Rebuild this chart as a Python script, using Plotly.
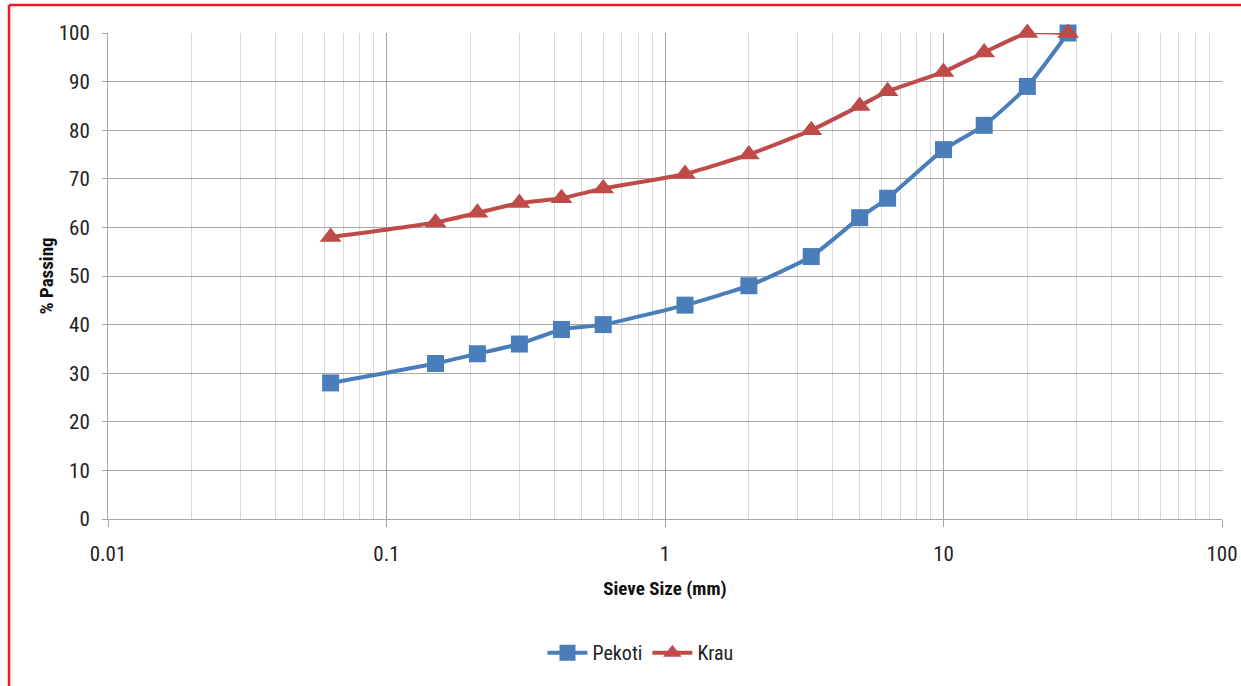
import plotly.graph_objects as go

sieve_mm = [0.063, 0.15, 0.212, 0.3, 0.425, 0.6, 1.18, 2, 3.35, 5, 6.3, 10, 14, 20, 28]
pekoti = [28, 32, 34, 36, 39, 40, 44, 48, 54, 62, 66, 76, 81, 89, 100]
krau = [58, 61, 63, 65, 66, 68, 71, 75, 80, 85, 88, 92, 96, 100, 100]

FONT = "Liberation Sans Narrow, Arial Narrow, Roboto Condensed, Open Sans, sans-serif"

fig = go.Figure()
fig.add_trace(go.Scatter(
    x=sieve_mm, y=pekoti, name="Pekoti", mode="lines+markers", cliponaxis=False,
    line=dict(color="#4a7ebb", width=4, shape="spline", smoothing=0.5),
    marker=dict(symbol="square", size=17, color="#4a7ebb"),
))
fig.add_trace(go.Scatter(
    x=sieve_mm, y=krau, name="Krau", mode="lines+markers", cliponaxis=False,
    line=dict(color="#be4b48", width=4, shape="spline", smoothing=0.5),
    marker=dict(symbol="triangle-up", size=19, color="#be4b48"),
))

W, H = 1241, 686
ml, mr, mt, mb = 108, 19, 33, 167
pw, ph = W - ml - mr, H - mt - mb

fig.update_layout(
    width=W, height=H,
    margin=dict(l=ml, r=mr, t=mt, b=mb, autoexpand=False),
    paper_bgcolor="white", plot_bgcolor="white",
    font=dict(family=FONT, size=21, color="#222"),
    showlegend=True,
    legend=dict(orientation="h", x=0.478, xanchor="center", y=-0.275, yanchor="middle",
                font=dict(size=20, family=FONT), itemwidth=40, tracegroupgap=0),
    xaxis=dict(
        type="log", range=[-2, 2], dtick=1,
        tickvals=[0.01, 0.1, 1, 10, 100], ticktext=["0.01", "0.1", "1", "10", "100"],
        showgrid=True, gridcolor="#a6a6a6", gridwidth=1,
        showline=True, linecolor="#a6a6a6", linewidth=1,
        ticks="outside", ticklen=7, tickcolor="#a6a6a6",
        ticklabelstandoff=9, automargin=False,
        minor=dict(dtick="D1", showgrid=True, gridcolor="#d9d9d9", gridwidth=1, ticks=""),
        zeroline=False, mirror=False,
        title=dict(text="<b>Sieve Size (mm)</b>", font=dict(size=19, family=FONT, color="#111"), standoff=16),
        tickfont=dict(size=21),
    ),
    yaxis=dict(
        range=[0, 100], dtick=10,
        showgrid=True, gridcolor="#a6a6a6", gridwidth=1,
        showline=True, linecolor="#a6a6a6", linewidth=1,
        ticks="outside", ticklen=5, tickcolor="#a6a6a6",
        ticklabelstandoff=8, automargin=False,
        zeroline=False,
        title=dict(text="<b>% Passing</b>", font=dict(size=19, family=FONT, color="#111"), standoff=0),
        tickfont=dict(size=21),
    ),
    shapes=[
        dict(type="line", xref="paper", yref="paper",
             x0=(9 - ml) / pw, x1=(W + 20 - ml) / pw,
             y0=1 + (mt - 5) / ph, y1=1 + (mt - 5) / ph,
             line=dict(color="#ee1c24", width=2.5)),
        dict(type="line", xref="paper", yref="paper",
             x0=(9 - ml) / pw, x1=(9 - ml) / pw,
             y0=1 + (mt - 5) / ph, y1=-(mb + 20) / ph,
             line=dict(color="#ee1c24", width=2.5)),
    ],
)

fig.write_html("out.html", config={"displayModeBar": False},
               post_script="document.body.style.margin='0';document.body.style.overflow='hidden';")
